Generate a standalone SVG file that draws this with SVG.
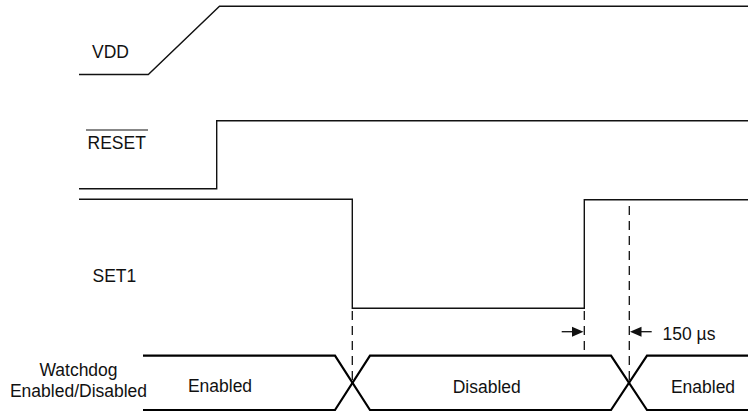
<svg xmlns="http://www.w3.org/2000/svg" width="748" height="412" viewBox="0 0 748 412">
<defs>
<style>
.sig{fill:none;stroke:#111;stroke-width:1.4}
.bus{fill:none;stroke:#000;stroke-width:2.2}
.dash{fill:none;stroke:#111;stroke-width:1.3;stroke-dasharray:9,6}
.t{font-family:"Liberation Sans",Arial,sans-serif;font-size:17.5px;fill:#111}
.m{text-anchor:middle}
.arr{fill:none;stroke:#111;stroke-width:1.3}
</style>
</defs>
<rect width="748" height="412" fill="#fff"/>
<g id="vdd">
<path class="sig" d="M79,74.5 H148.3 L219.5,6.3 H748"/>
<text class="t" x="92" y="58.3">VDD</text>
</g>
<g id="reset">
<path class="sig" d="M79,188.7 H216.7 V120.7 H748"/>
<text class="t" x="87.5" y="149.3">RESET</text>
<line x1="86" y1="130" x2="148" y2="130" stroke="#111" stroke-width="1.2"/>
</g>
<g id="set1">
<path class="sig" d="M79,199.3 H352.3 V308.3 H584.3 V199.7 H748"/>
<text class="t" x="92.5" y="281.7">SET1</text>
</g>
<g id="watchdog">
<text class="t m" x="78.5" y="376">Watchdog</text>
<text class="t m" x="78.5" y="396.5">Enabled/Disabled</text>
<path class="bus" d="M143,355.7 H335 L370,410 H611 L647,355.7 H748"/>
<path class="bus" d="M143,410 H335 L370,355.7 H611 L647,410 H748"/>
<text class="t m" x="220" y="392.3">Enabled</text>
<text class="t m" x="486.7" y="393.3">Disabled</text>
<text class="t m" x="703" y="393.3">Enabled</text>
</g>
<g id="connectors">
<line class="dash" x1="352.3" y1="311" x2="352.3" y2="382"/>
<line class="dash" x1="584.3" y1="311" x2="584.3" y2="355"/>
<line class="dash" x1="629.3" y1="206" x2="629.3" y2="382"/>
<line class="arr" x1="561.7" y1="331.7" x2="575" y2="331.7"/>
<polygon points="583.5,331.7 572,326.7 572,336.7" fill="#111"/>
<line class="arr" x1="638" y1="331.7" x2="651.7" y2="331.7"/>
<polygon points="630,331.7 641.5,326.7 641.5,336.7" fill="#111"/>
<text class="t" x="662.5" y="340">150 µs</text>
</g>
</svg>
